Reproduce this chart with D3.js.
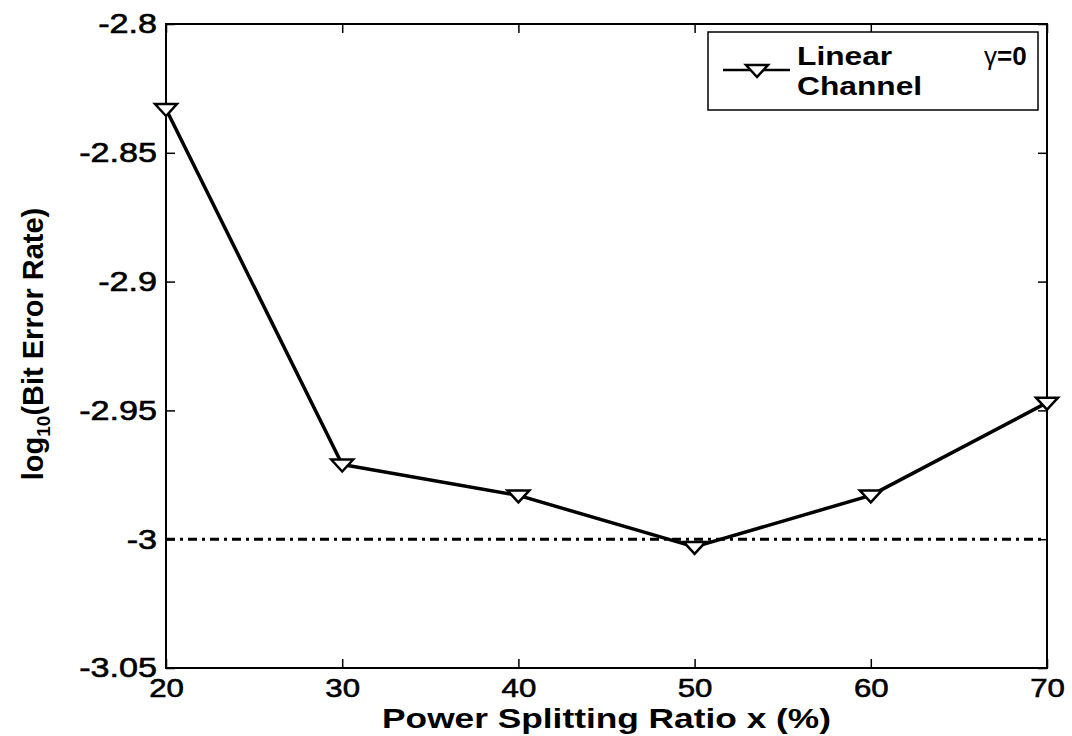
<!DOCTYPE html>
<html>
<head>
<meta charset="utf-8">
<script src="https://cdn.jsdelivr.net/npm/d3@7"></script>
<style>
  body { margin: 0; background: #fff; }
  svg { display: block; font-family: "Liberation Sans", Arial, sans-serif; }
</style>
</head>
<body>
<svg id="chart" width="1072" height="736"></svg>
<script>
// dados
const splitRatio = [20, 30, 40, 50, 60, 70];
const logBer = [-2.833, -2.971, -2.983, -3.003, -2.983, -2.947];
const refLevel = -3;
const xTicks = [20, 30, 40, 50, 60, 70];
const yTicks = [-3.05, -3, -2.95, -2.9, -2.85, -2.8];
const yTickLabels = ['-3.05', '-3', '-2.95', '-2.9', '-2.85', '-2.8'];
const legendLines = ['Linear', 'Channel'];

const width = 1072, height = 736;
const margin = { top: 24, right: 25, bottom: 68, left: 166 };
const innerW = width - margin.left - margin.right;
const innerH = height - margin.top - margin.bottom;

const svg = d3.select('#chart');
const g = svg.append('g').attr('transform', `translate(${margin.left},${margin.top})`);

const x = d3.scaleLinear().domain([20, 70]).range([0, innerW]);
const y = d3.scaleLinear().domain([-3.05, -2.8]).range([innerH, 0]);

const tickLen = 9;

// o texto do original é mais largo que a Liberation Sans
const stretch = (sel, f) => sel.each(function () {
  const w = this.getComputedTextLength();
  d3.select(this).attr('textLength', w * f).attr('lengthAdjust', 'spacingAndGlyphs');
});

const styleAxis = sel => {
  sel.select('.domain').remove();
  sel.selectAll('line').attr('stroke', '#000').attr('stroke-width', 1.5);
};

const styleTickText = (sel, size) => sel
  .attr('font-size', size).attr('fill', '#000').attr('stroke', '#000').attr('stroke-width', 0.6)
  .attr('font-family', '"Liberation Sans", Arial, sans-serif');

// eixos com ticks para dentro (estilo matlab)
g.append('g')
  .attr('transform', `translate(0,${innerH})`)
  .call(d3.axisBottom(x).tickValues(xTicks).tickSize(-tickLen).tickPadding(11))
  .call(styleAxis)
  .selectAll('text')
  .call(styleTickText, 26)
  .call(stretch, 1.2);

g.append('g')
  .call(d3.axisTop(x).tickValues(xTicks).tickSize(-tickLen).tickFormat(''))
  .call(styleAxis);

g.append('g')
  .call(d3.axisLeft(y).tickValues(yTicks).tickSize(-tickLen).tickPadding(9)
    .tickFormat((d, i) => yTickLabels[i]))
  .call(styleAxis)
  .selectAll('text')
  .call(styleTickText, 28)
  .call(stretch, 1.22);

g.append('g')
  .attr('transform', `translate(${innerW},0)`)
  .call(d3.axisRight(y).tickValues(yTicks).tickSize(-tickLen).tickFormat(''))
  .call(styleAxis);

// caixa
g.append('rect')
  .attr('width', innerW).attr('height', innerH)
  .attr('fill', 'none').attr('stroke', '#000').attr('stroke-width', 2);

// linha de referência traço-ponto
g.append('line')
  .attr('x1', x(20)).attr('x2', x(70))
  .attr('y1', y(refLevel)).attr('y2', y(refLevel))
  .attr('stroke', '#000').attr('stroke-width', 3)
  .attr('stroke-dasharray', '9,5,3,5');

// curva
const line = d3.line().x((d, i) => x(splitRatio[i])).y(d => y(d));
g.append('path')
  .datum(logBer)
  .attr('d', line)
  .attr('fill', 'none').attr('stroke', '#000').attr('stroke-width', 3.5)
  .attr('stroke-linejoin', 'round');

const tri = 'M-11,-5 L11,-5 L0,7 Z';
g.selectAll('.marker')
  .data(logBer)
  .enter()
  .append('path')
  .attr('class', 'marker')
  .attr('d', tri)
  .attr('transform', (d, i) => `translate(${x(splitRatio[i])},${y(d)})`)
  .attr('fill', '#fff').attr('stroke', '#000').attr('stroke-width', 2.5);

// títulos dos eixos
svg.append('text')
  .attr('x', margin.left + innerW / 2).attr('y', 728)
  .attr('text-anchor', 'middle')
  .attr('font-size', 28).attr('font-weight', 'bold')
  .text('Power Splitting Ratio x (%)')
  .call(stretch, 1.26);

const yl = svg.append('text')
  .attr('transform', `translate(43,${margin.top + innerH / 2 - 2}) rotate(-90)`)
  .attr('text-anchor', 'middle')
  .attr('font-size', 29).attr('font-weight', 'bold');
yl.append('tspan').text('log');
yl.append('tspan').attr('font-size', 19).attr('dy', 7).text('10');
yl.append('tspan').attr('dy', -7).text('(Bit Error Rate)');

// legenda
const leg = svg.append('g');
leg.append('rect')
  .attr('x', 708).attr('y', 32).attr('width', 330).attr('height', 78)
  .attr('fill', '#fff').attr('stroke', '#000').attr('stroke-width', 1.5);
leg.append('line')
  .attr('x1', 723).attr('x2', 790).attr('y1', 70).attr('y2', 70)
  .attr('stroke', '#000').attr('stroke-width', 2.5);
leg.append('path')
  .attr('d', tri)
  .attr('transform', 'translate(757,70)')
  .attr('fill', '#fff').attr('stroke', '#000').attr('stroke-width', 2.5);
leg.selectAll('.legtxt')
  .data(legendLines)
  .enter()
  .append('text')
  .attr('x', 797).attr('y', (d, i) => 65 + i * 30)
  .attr('font-size', 26).attr('font-weight', 'bold')
  .text(d => d)
  .call(stretch, 1.22);
const gam = leg.append('text')
  .attr('x', 984).attr('y', 65)
  .attr('font-size', 26);
gam.append('tspan').text('γ');
gam.append('tspan').attr('font-weight', 'bold').text('=0');
</script>
</body>
</html>
